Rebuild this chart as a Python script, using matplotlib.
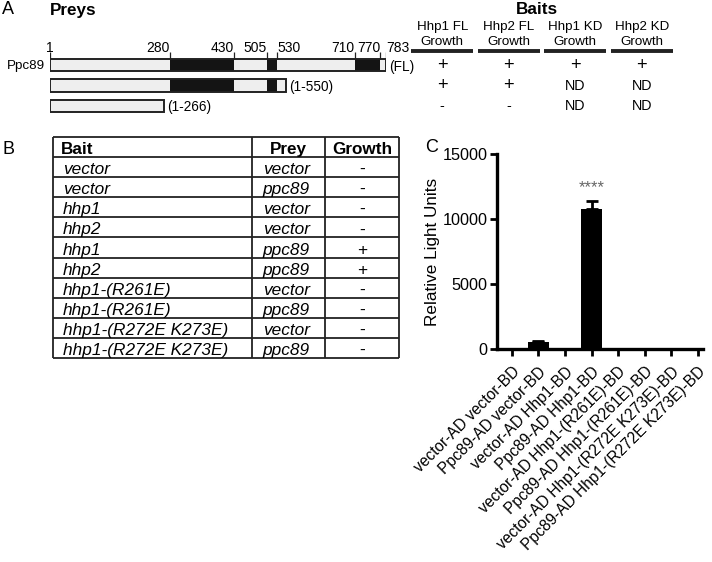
import matplotlib
matplotlib.use('Agg')
import matplotlib.pyplot as plt
from matplotlib import font_manager, transforms

names = {f.name for f in font_manager.fontManager.ttflist}
HAS_NARROW = 'Liberation Sans Narrow' in names
NARROW = 'Liberation Sans Narrow' if HAS_NARROW else 'Liberation Sans'
NS = 1.0 if HAS_NARROW else 0.82  # shrink when the narrow face is missing
plt.rcParams['font.family'] = ['Liberation Sans', 'DejaVu Sans']

# ---- panel A data
aa_ticks = [1, 280, 430, 505, 530, 710, 770, 783]
aa_tick_ha = ['center', 'right', 'right', 'right', 'left', 'right', 'right', 'left']
construct_labels = ['(FL)', '(1-550)', '(1-266)']
construct_end = [783, 550, 266]
domains = [(280, 430), (505, 530), (710, 770)]
bait_names = ['Hhp1 FL', 'Hhp2 FL', 'Hhp1 KD', 'Hhp2 KD']
bait_growth = [['+', '+', '+', '+'],
               ['+', '+', 'ND', 'ND'],
               ['-', '-', 'ND', 'ND']]

# ---- panel B data
tbl_bait = ['vector', 'vector', 'hhp1', 'hhp2', 'hhp1', 'hhp2',
            'hhp1-(R261E)', 'hhp1-(R261E)', 'hhp1-(R272E K273E)', 'hhp1-(R272E K273E)']
tbl_prey = ['vector', 'ppc89', 'vector', 'vector', 'ppc89', 'ppc89',
            'vector', 'ppc89', 'vector', 'ppc89']
tbl_growth = ['-', '-', '-', '-', '+', '+', '-', '-', '-', '-']

# ---- panel C data
c_labels = ['vector-AD vector-BD', 'Ppc89-AD vector-BD', 'vector-AD Hhp1-BD',
            'Ppc89-AD Hhp1-BD', 'vector-AD Hhp1-(R261E)-BD', 'Ppc89-AD Hhp1-(R261E)-BD',
            'vector-AD Hhp1-(R272E K273E)-BD', 'Ppc89-AD Hhp1-(R272E K273E)-BD']
c_values = [40, 540, 40, 10800, 40, 40, 40, 40]
c_err = [0, 60, 0, 600, 0, 0, 0, 0]

W, H = 712, 562
fig = plt.figure(figsize=(W / 100, H / 100), dpi=100)


def px_axes(x0, y0, x1, y1):
    ax = fig.add_axes([x0 / W, 1 - y1 / H, (x1 - x0) / W, (y1 - y0) / H])
    return ax


def ftext(x, y, s, **kw):
    fig.text(x / W, 1 - y / H, s, **kw)


def row_of(py):
    return (py - 65) / 20.5


# ================= A
ftext(2, 10, 'A', fontsize=13, va='center', ha='left')
ftext(50, 10, 'Preys', fontsize=12.3, fontweight='bold', va='center', ha='left')

ax_a = px_axes(50, 0, 386, 120)
ax_a.set_xlim(1, 783)
ax_a.set_ylim(row_of(120), row_of(0))
ax_a.axis('off')
bh = 0.63
for i, end in enumerate(construct_end):
    ax_a.barh(i, end - 1, left=1, height=bh, color='#eeeeee', edgecolor='none')
    for s, e in domains:
        if s < end:
            ax_a.barh(i, min(e, end) - s, left=s, height=bh, color='#141414', edgecolor='none')
    ax_a.barh(i, end - 1, left=1, height=bh, fill=False, edgecolor='#222222', linewidth=1.4)
    off = transforms.offset_copy(ax_a.transData, fig, x=3, y=0, units='dots')
    ax_a.text(end, i, construct_labels[i], transform=off, fontsize=12 * NS, family=NARROW,
              ha='left', va='center_baseline', clip_on=False)
off = transforms.offset_copy(ax_a.transData, fig, x=-5, y=0, units='dots')
ax_a.text(1, 0, 'Ppc89', transform=off, fontsize=11.8 * NS, family=NARROW,
          ha='right', va='center_baseline', clip_on=False)
ax_a.vlines(aa_ticks, row_of(52), -bh / 2, color='#222222', linewidth=0.9)
for t, ha in zip(aa_ticks, aa_tick_ha):
    ax_a.text(t, row_of(54.5), str(t), fontsize=12.2 * NS, family=NARROW, ha=ha, va='bottom')

ax_b = px_axes(409, 0, 675, 120)
ax_b.set_xlim(-0.5, 3.5)
ax_b.set_ylim(row_of(120), row_of(0))
ax_b.axis('off')
ax_b.text(1.43, row_of(10), 'Baits', fontsize=12.3, fontweight='bold', ha='center', va='center')
for c, name in enumerate(bait_names):
    ax_b.text(c, row_of(27), name, fontsize=11.7 * NS, family=NARROW, ha='center', va='center')
    ax_b.text(c, row_of(42), 'Growth', fontsize=11.7 * NS, family=NARROW, ha='center', va='center')
    ax_b.hlines(row_of(51), c - 0.465, c + 0.465, color='#222222', linewidth=2.8)
    for r in range(len(bait_growth)):
        sym = bait_growth[r][c]
        ax_b.text(c, r, sym, fontsize=(16 if sym == '+' else 12.5) * NS, family=NARROW,
                  ha='center', va='center')

# ================= B
ftext(2, 149, 'B', fontsize=13, va='center', ha='left')
ax_t = px_axes(53, 137, 399, 358)
col_edges = [0, 199, 272, 346]
n_rows = len(tbl_bait) + 1
ax_t.set_xlim(0, 346)
ax_t.set_ylim(n_rows, 0)
ax_t.axis('off')
ax_t.hlines(range(n_rows + 1), 0, 346, color='#222222', linewidth=1.3, clip_on=False)
ax_t.vlines(col_edges, 0, n_rows, color='#222222', linewidth=1.3, clip_on=False)
pc = (col_edges[1] + col_edges[2]) / 2
gc = (col_edges[2] + col_edges[3]) / 2
ax_t.text(8, 0.55, 'Bait', fontsize=12.3, fontweight='bold', ha='left', va='center_baseline')
ax_t.text(pc, 0.55, 'Prey', fontsize=12.3, fontweight='bold', ha='center', va='center_baseline')
ax_t.text(gc, 0.55, 'Growth', fontsize=12.3, fontweight='bold', ha='center', va='center_baseline')
for i in range(len(tbl_bait)):
    y = i + 1.55
    ax_t.text(10, y, tbl_bait[i], fontsize=12.4, style='italic', ha='left', va='center_baseline')
    ax_t.text(pc - 2, y, tbl_prey[i], fontsize=12.4, style='italic', ha='center', va='center_baseline')
    ax_t.text(gc, y, tbl_growth[i], fontsize=12.4, ha='center', va='center_baseline')

# ================= C
ftext(425, 148, 'C', fontsize=13, va='center', ha='left')
ax_c = px_axes(497, 154, 703, 349)
x = list(range(len(c_values)))
ax_c.bar(x, c_values, width=0.78, color='black')
ex = [i for i in x if c_err[i] > 0]
ax_c.errorbar(ex, [c_values[i] for i in ex], yerr=[[0] * len(ex), [c_err[i] for i in ex]],
              fmt='none', ecolor='black', elinewidth=2, capsize=4, capthick=2)
ax_c.text(3, 12450, '****', color='#666666', fontsize=12, ha='center', va='center')
ax_c.set_xlim(-0.56, 7.2)
ax_c.set_ylim(0, 15000)
ax_c.set_yticks([0, 5000, 10000, 15000])
ax_c.set_xticks(x)
ax_c.set_xticklabels(c_labels, rotation=45, ha='right', va='top', rotation_mode='anchor')
ax_c.tick_params(labelsize=11.7, length=5, width=2, pad=2)
ax_c.tick_params(axis='x', labelsize=11.2, pad=6)
for s in ['top', 'right']:
    ax_c.spines[s].set_visible(False)
for s in ['left', 'bottom']:
    ax_c.spines[s].set_linewidth(2.4)
ax_c.set_ylabel('Relative Light Units', fontsize=12.3)
ax_c.yaxis.set_label_coords(-0.277, 0.5)

fig.savefig('out.png', dpi=100)
